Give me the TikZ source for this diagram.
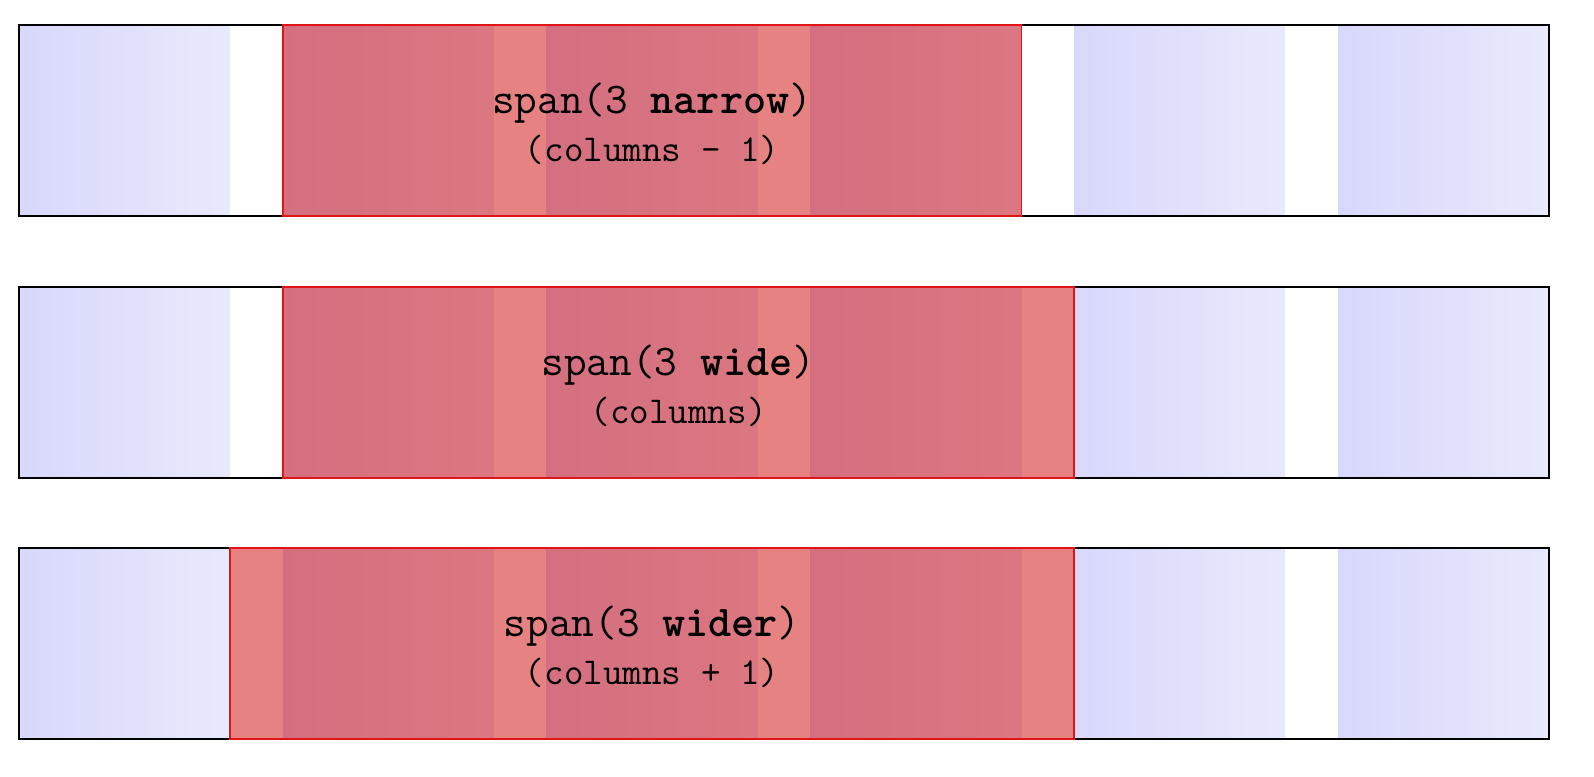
\documentclass[tikz,border=0pt]{standalone}
\usepackage{fontspec}
\definecolor{bluel}{RGB}{216,216,252}
\definecolor{bluer}{RGB}{233,233,252}
\definecolor{spanred}{RGB}{208,16,16}
\definecolor{spanedge}{RGB}{226,20,24}
\tikzset{
  colbox/.style={draw=none, left color=bluel, right color=bluer},
  rowbox/.style={draw=black, line width=1.5pt},
  spanbox/.style={draw=spanedge, line width=1.5pt, fill=spanred, fill opacity=0.52},
  lineone/.style={anchor=base, inner sep=0pt, font=\fontsize{44}{47}\selectfont\ttfamily},
  linetwo/.style={anchor=base, inner sep=0pt, font=\fontsize{38}{41}\selectfont\ttfamily}
}
\begin{document}
\begin{tikzpicture}[x=1pt,y=-1pt]
\useasboundingbox (0,0) rectangle (1594,776);
\foreach \r/\top/\sx/\ex/\la/\lb in {
  1/25/282.8/1021.4/{span(3 \textbf{narrow})}/{(columns - 1)},
  2/287/282.8/1074.2/{span(3 \textbf{wide})}/{(columns)},
  3/548/230/1074.2/{span(3 \textbf{wider})}/{(columns + 1)}}{
  \foreach \c in {0,...,5}{
    \fill[colbox] ({19+\c*263.8},\top) rectangle ({230+\c*263.8},\top+191);
  }
  \draw[rowbox] (19,\top) rectangle (1549,\top+191);
  \draw[spanbox] (\sx,\top) rectangle (\ex,\top+191);
  \node[lineone] (la\r) at ({(\sx+\ex)/2},\top+88) {\la};
  \node[linetwo] (lb\r) at ({(\sx+\ex)/2},\top+136) {\lb};
}
\end{tikzpicture}
\end{document}
